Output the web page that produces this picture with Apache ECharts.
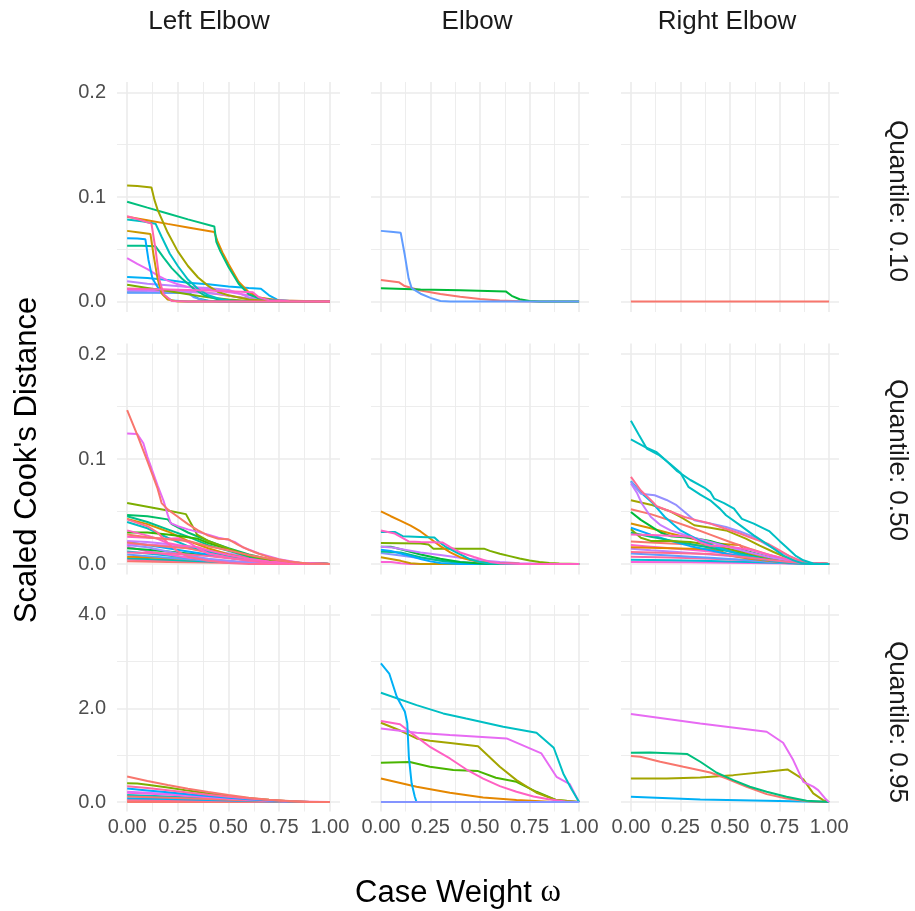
<!DOCTYPE html>
<html>
<head>
<meta charset="utf-8">
<script src="https://cdn.jsdelivr.net/npm/echarts@6/dist/echarts.min.js"></script>
<style>
html,body{margin:0;padding:0;background:#fff;}
#chart{width:915px;height:911px;}
</style>
</head>
<body>
<div id="chart"></div>
<script>
// ---------- labels / ticks ----------
const columnLabels = ['Left Elbow', 'Elbow', 'Right Elbow'];
const rowLabels = ['Quantile: 0.10', 'Quantile: 0.50', 'Quantile: 0.95'];
const xTicks = [0, 0.25, 0.5, 0.75, 1];
const xTickLabels = ['0.00', '0.25', '0.50', '0.75', '1.00'];
const xMinorTicks = [0.125, 0.375, 0.625, 0.875];
const yTicksSmall = [0, 0.1, 0.2];
const yTickLabelsSmall = ['0.0', '0.1', '0.2'];
const yMinorSmall = [0.05, 0.15];
const yTicksLarge = [0, 2, 4];
const yTickLabelsLarge = ['0.0', '2.0', '4.0'];
const yMinorLarge = [1, 3];
const xTitle = 'Case Weight ';
const yTitle = "Scaled Cook's Distance";

// ---------- data: each line is a list of [case weight, scaled Cook's distance] ----------
const leftQ10 = [
  [[0,0.0125],[0.15,0.0118],[0.25,0.0105],[0.35,0.0095],[0.45,0.007],[0.55,0.004],[0.65,0.0015],[0.75,0.0003],[1,0]],
  [[0,0.009],[0.1,0.0088],[0.3,0.0085],[0.35,0.003],[0.4,0.0008],[0.5,0],[1,0]],
  [[0,0.0085],[0.15,0.0085],[0.3,0.0082],[0.33,0.004],[0.38,0.001],[0.45,0],[1,0]],
  [[0,0.0105],[0.2,0.0098],[0.3,0.0092],[0.45,0.0075],[0.55,0.004],[0.62,0.002],[0.7,0.0005],[1,0]],
  [[0,0.016],[0.1,0.013],[0.2,0.01],[0.3,0.007],[0.4,0.004],[0.5,0.002],[0.6,0.0005],[1,0]],
  [[0,0.0195],[0.1,0.017],[0.2,0.0155],[0.3,0.014],[0.4,0.013],[0.5,0.011],[0.55,0.008],[0.6,0.004],[0.7,0.001],[1,0]],
  [[0,0.0235],[0.1,0.0225],[0.2,0.0205],[0.3,0.018],[0.4,0.0165],[0.5,0.0145],[0.6,0.013],[0.66,0.0122],[0.7,0.006],[0.74,0.0018],[0.8,0.0005],[1,0]],
  [[0,0.0415],[0.05,0.036],[0.1,0.031],[0.15,0.025],[0.2,0.02],[0.25,0.0165],[0.3,0.014],[0.4,0.0115],[0.5,0.009],[0.6,0.006],[0.7,0.002],[0.8,0.0005],[1,0]],
  [[0,0.0533],[0.07,0.0533],[0.14,0.0528],[0.18,0.042],[0.22,0.032],[0.27,0.022],[0.33,0.012],[0.38,0.006],[0.45,0.002],[0.55,0],[1,0]],
  [[0,0.0785],[0.08,0.0765],[0.14,0.0745],[0.17,0.062],[0.21,0.046],[0.25,0.034],[0.3,0.021],[0.35,0.012],[0.4,0.006],[0.45,0.003],[0.5,0.001],[0.6,0],[1,0]],
  [[0,0.0606],[0.05,0.0602],[0.09,0.0595],[0.105,0.04],[0.125,0.022],[0.15,0.014],[0.18,0.006],[0.22,0.001],[0.3,0],[1,0]],
  [[0,0.0676],[0.06,0.066],[0.115,0.0645],[0.13,0.045],[0.15,0.022],[0.17,0.008],[0.2,0.002],[0.25,0],[1,0]],
  [[0,0.0812],[0.1,0.0778],[0.2,0.0743],[0.3,0.0709],[0.43,0.0665],[0.445,0.058],[0.47,0.047],[0.5,0.036],[0.55,0.019],[0.6,0.009],[0.65,0.004],[0.75,0.001],[1,0]],
  [[0,0.0955],[0.1,0.0898],[0.2,0.0842],[0.3,0.0786],[0.43,0.0718],[0.44,0.057],[0.46,0.048],[0.5,0.033],[0.55,0.017],[0.6,0.007],[0.65,0.003],[0.75,0.0008],[1,0]],
  [[0,0.111],[0.05,0.1105],[0.12,0.109],[0.135,0.097],[0.15,0.088],[0.2,0.066],[0.25,0.048],[0.3,0.034],[0.35,0.023],[0.4,0.015],[0.45,0.009],[0.5,0.006],[0.6,0.002],[0.7,0.0005],[1,0]],
  [[0,0.012],[0.2,0.0115],[0.4,0.0105],[0.5,0.0098],[0.62,0.0088],[0.65,0.004],[0.7,0.0012],[0.8,0.0003],[1,0]],
  [[0,0.0815],[0.05,0.079],[0.12,0.0745],[0.14,0.05],[0.16,0.02],[0.18,0.007],[0.22,0.0005],[0.3,0],[1,0]]
];
const leftQ10Colors = ['#F8766D','#00C0AF','#619CFF','#C77CFF','#7CAE00','#B983FF','#00B0F6','#E76BF3','#00C08B','#00BFC4','#00A9FF','#C99800','#E58700','#00BF7D','#A3A500','#FF61C3','#FF65AC'];

const elbowQ10 = [
  [[0,0.0207],[0.09,0.0185],[0.12,0.0148],[0.2,0.0105],[0.3,0.0072],[0.4,0.0045],[0.5,0.0025],[0.6,0.001],[0.7,0.0003],[0.8,0],[1,0]],
  [[0,0.0128],[0.2,0.0116],[0.4,0.0107],[0.63,0.0097],[0.66,0.0055],[0.7,0.0022],[0.75,0.0005],[0.8,0],[1,0]],
  [[0,0.0676],[0.05,0.0667],[0.1,0.0657],[0.12,0.045],[0.14,0.022],[0.155,0.0128],[0.2,0.0075],[0.25,0.0035],[0.3,0.0005],[0.35,0],[1,0]]
];
const elbowQ10Colors = ['#F8766D','#00BA38','#619CFF'];

const rightQ10 = [
  [[0,0],[1,0]]
];
const rightQ10Colors = ['#F8766D'];

const leftQ50 = [
  [[0,0.0025],[0.2,0.002],[0.4,0.0015],[0.6,0.001],[1,0]],
  [[0,0.004],[0.1,0.0035],[0.2,0.003],[0.3,0.0025],[0.4,0.002],[0.5,0.0015],[0.6,0.001],[1,0]],
  [[0,0.0055],[0.1,0.0048],[0.2,0.004],[0.3,0.0032],[0.4,0.0024],[0.5,0.0016],[0.6,0.001],[1,0]],
  [[0,0.007],[0.1,0.0065],[0.2,0.0055],[0.3,0.0045],[0.4,0.0035],[0.5,0.0025],[0.6,0.0015],[0.7,0.0007],[1,0]],
  [[0,0.009],[0.1,0.0075],[0.2,0.006],[0.3,0.0045],[0.4,0.003],[0.5,0.002],[0.6,0.001],[1,0]],
  [[0,0.012],[0.1,0.01],[0.2,0.008],[0.3,0.006],[0.4,0.004],[0.5,0.0025],[0.6,0.0013],[0.7,0.0005],[1,0]],
  [[0,0.0165],[0.1,0.012],[0.2,0.009],[0.3,0.006],[0.4,0.004],[0.5,0.0025],[0.6,0.0012],[0.7,0.0005],[1,0]],
  [[0,0.015],[0.1,0.0135],[0.2,0.012],[0.3,0.01],[0.4,0.008],[0.5,0.006],[0.6,0.004],[0.7,0.002],[0.8,0.0008],[1,0]],
  [[0,0.018],[0.1,0.016],[0.2,0.012],[0.3,0.008],[0.4,0.005],[0.5,0.003],[0.6,0.0015],[0.7,0.0005],[1,0]],
  [[0,0.021],[0.1,0.018],[0.2,0.015],[0.3,0.012],[0.4,0.009],[0.5,0.006],[0.6,0.0035],[0.7,0.0015],[0.8,0.0005],[1,0]],
  [[0,0.022],[0.1,0.021],[0.2,0.019],[0.3,0.016],[0.4,0.013],[0.5,0.01],[0.55,0.008],[0.6,0.005],[0.7,0.0025],[0.8,0.001],[1,0]],
  [[0,0.019],[0.1,0.0185],[0.2,0.0175],[0.3,0.015],[0.4,0.012],[0.5,0.0095],[0.6,0.0065],[0.7,0.0035],[0.8,0.0013],[1,0]],
  [[0,0.0205],[0.1,0.018],[0.2,0.0165],[0.3,0.015],[0.4,0.011],[0.5,0.008],[0.6,0.005],[0.7,0.0025],[0.8,0.001],[1,0]],
  [[0,0.04],[0.1,0.034],[0.2,0.025],[0.3,0.017],[0.4,0.012],[0.5,0.008],[0.6,0.004],[0.7,0.0018],[0.8,0.0005],[1,0]],
  [[0,0.043],[0.1,0.038],[0.2,0.031],[0.3,0.022],[0.4,0.015],[0.5,0.009],[0.6,0.005],[0.7,0.002],[0.8,0.0007],[1,0]],
  [[0,0.0455],[0.1,0.04],[0.2,0.033],[0.3,0.026],[0.35,0.022],[0.4,0.018],[0.5,0.0125],[0.6,0.007],[0.7,0.003],[0.8,0.001],[1,0]],
  [[0,0.0466],[0.1,0.0455],[0.2,0.0425],[0.22,0.038],[0.3,0.03],[0.4,0.022],[0.5,0.015],[0.6,0.009],[0.7,0.0045],[0.8,0.0015],[1,0]],
  [[0,0.03],[0.1,0.03],[0.2,0.028],[0.25,0.027],[0.35,0.024],[0.4,0.02],[0.45,0.017],[0.5,0.014],[0.6,0.008],[0.7,0.004],[0.8,0.0015],[1,0]],
  [[0,0.058],[0.1,0.0545],[0.2,0.051],[0.29,0.0475],[0.32,0.037],[0.345,0.028],[0.4,0.022],[0.5,0.0145],[0.6,0.008],[0.7,0.004],[0.8,0.0015],[0.9,0.0003],[1,0]],
  [[0,0.0425],[0.1,0.036],[0.15,0.03],[0.2,0.02],[0.25,0.012],[0.3,0.007],[0.4,0.003],[0.5,0.001],[0.6,0],[1,0]],
  [[0,0.026],[0.1,0.025],[0.2,0.024],[0.25,0.0245],[0.3,0.021],[0.35,0.015],[0.4,0.01],[0.5,0.006],[0.6,0.003],[0.7,0.001],[1,0]],
  [[0,0.011],[0.1,0.0105],[0.2,0.01],[0.3,0.009],[0.4,0.0075],[0.5,0.0055],[0.6,0.0035],[0.7,0.0018],[0.8,0.0006],[1,0]],
  [[0,0.032],[0.1,0.027],[0.15,0.024],[0.2,0.02],[0.25,0.018],[0.3,0.017],[0.35,0.016],[0.4,0.013],[0.5,0.0085],[0.6,0.005],[0.7,0.0025],[0.8,0.001],[1,0]],
  [[0,0.028],[0.1,0.0255],[0.2,0.0235],[0.3,0.022],[0.35,0.0195],[0.4,0.017],[0.5,0.013],[0.6,0.0085],[0.7,0.005],[0.8,0.002],[0.9,0.0005],[1,0]],
  [[0,0.1243],[0.05,0.1238],[0.08,0.115],[0.1,0.102],[0.15,0.075],[0.18,0.06],[0.2,0.047],[0.215,0.039],[0.25,0.036],[0.3,0.033],[0.4,0.028],[0.45,0.025],[0.5,0.023],[0.53,0.021],[0.57,0.016],[0.65,0.01],[0.75,0.0045],[0.85,0.0012],[1,0]],
  [[0,0.1466],[0.05,0.123],[0.1,0.098],[0.15,0.072],[0.17,0.058],[0.2,0.052],[0.25,0.045],[0.3,0.038],[0.35,0.032],[0.4,0.027],[0.45,0.024],[0.5,0.0235],[0.55,0.018],[0.6,0.0135],[0.65,0.0098],[0.7,0.0065],[0.75,0.0042],[0.8,0.0025],[0.85,0.0012],[0.9,0.0005],[1,0]]
];
const leftQ50Colors = ['#F8766D','#FF6C91','#00C0AF','#E58700','#619CFF','#00BCD8','#FD61D1','#00BA38','#9590FF','#00A9FF','#C77CFF','#E76BF3','#F8766D','#00BFC4','#D89000','#00C08B','#00BE67','#39B600','#7CAE00','#FF6C91','#FF61C3','#FF67A4','#FF61C3','#F8766D','#E76BF3','#F8766D'];

const elbowQ50 = [
  [[0,0.002],[0.05,0.0018],[0.1,0.0008],[0.15,0],[1,0]],
  [[0,0.0065],[0.1,0.003],[0.15,0.0008],[0.2,0],[1,0]],
  [[0,0.0105],[0.1,0.008],[0.2,0.0055],[0.3,0.0035],[0.4,0.0018],[0.5,0.0008],[0.6,0.0002],[1,0]],
  [[0,0.012],[0.1,0.011],[0.2,0.0065],[0.3,0.003],[0.4,0.001],[0.5,0],[1,0]],
  [[0,0.0135],[0.05,0.0125],[0.1,0.01],[0.15,0.0075],[0.2,0.0048],[0.25,0.0025],[0.3,0.001],[0.4,0],[1,0]],
  [[0,0.0165],[0.05,0.0165],[0.1,0.014],[0.2,0.009],[0.3,0.005],[0.4,0.0018],[0.5,0.0004],[0.6,0],[1,0]],
  [[0,0.0165],[0.06,0.0158],[0.12,0.0135],[0.2,0.011],[0.3,0.0085],[0.4,0.006],[0.5,0.0035],[0.6,0.0018],[0.7,0.0008],[0.8,0.0002],[1,0]],
  [[0,0.02],[0.1,0.0198],[0.2,0.0196],[0.24,0.0185],[0.265,0.0146],[0.4,0.0146],[0.52,0.0146],[0.55,0.0125],[0.6,0.0098],[0.65,0.0075],[0.7,0.0052],[0.75,0.0033],[0.8,0.0018],[0.85,0.001],[0.9,0.0004],[1,0]],
  [[0,0.0502],[0.05,0.0455],[0.1,0.041],[0.15,0.0365],[0.2,0.031],[0.25,0.024],[0.3,0.017],[0.35,0.011],[0.4,0.0065],[0.45,0.0038],[0.5,0.002],[0.6,0.0008],[0.7,0.0002],[1,0]],
  [[0,0.0305],[0.07,0.0305],[0.11,0.0265],[0.2,0.0258],[0.27,0.0252],[0.3,0.02],[0.33,0.016],[0.38,0.0112],[0.45,0.0045],[0.5,0.0018],[0.55,0.0005],[0.65,0],[1,0]],
  [[0,0.032],[0.07,0.029],[0.14,0.0215],[0.2,0.021],[0.31,0.0205],[0.35,0.016],[0.4,0.011],[0.47,0.0066],[0.55,0.002],[0.6,0.0007],[0.7,0],[1,0]]
];
const elbowQ50Colors = ['#FB61D7','#C99800','#8494FF','#00C08B','#00A9FF','#00BA38','#C77CFF','#7CAE00','#E58700','#00BFC4','#FF61C3'];

const rightQ50 = [
  [[0,0.002],[0.3,0.0016],[0.6,0.001],[1,0]],
  [[0,0.004],[0.2,0.0035],[0.4,0.0028],[0.6,0.002],[0.8,0.0008],[1,0]],
  [[0,0.007],[0.2,0.0062],[0.4,0.005],[0.6,0.0035],[0.8,0.0015],[1,0]],
  [[0,0.01],[0.1,0.009],[0.2,0.008],[0.3,0.007],[0.4,0.006],[0.5,0.0048],[0.6,0.0035],[0.7,0.002],[0.8,0.0008],[1,0]],
  [[0,0.0145],[0.1,0.013],[0.2,0.0118],[0.3,0.0105],[0.4,0.009],[0.5,0.0075],[0.6,0.0055],[0.7,0.0035],[0.8,0.0015],[1,0]],
  [[0,0.018],[0.1,0.0165],[0.2,0.015],[0.3,0.0135],[0.4,0.012],[0.5,0.0095],[0.6,0.007],[0.7,0.0045],[0.8,0.002],[0.9,0.0005],[1,0]],
  [[0,0.0215],[0.1,0.0205],[0.2,0.0195],[0.3,0.0185],[0.4,0.0165],[0.5,0.0135],[0.6,0.0095],[0.7,0.0055],[0.8,0.0025],[0.9,0.0006],[1,0]],
  [[0,0.016],[0.1,0.0155],[0.2,0.015],[0.3,0.0145],[0.4,0.014],[0.45,0.0125],[0.5,0.008],[0.6,0.005],[0.7,0.0028],[0.8,0.001],[1,0]],
  [[0,0.0345],[0.1,0.028],[0.2,0.022],[0.3,0.017],[0.4,0.013],[0.5,0.009],[0.6,0.006],[0.7,0.0035],[0.8,0.0015],[1,0]],
  [[0,0.03],[0.1,0.026],[0.2,0.0225],[0.3,0.019],[0.4,0.0155],[0.5,0.012],[0.6,0.0085],[0.7,0.005],[0.8,0.002],[0.9,0.0005],[1,0]],
  [[0,0.033],[0.05,0.025],[0.1,0.022],[0.2,0.022],[0.3,0.021],[0.4,0.018],[0.5,0.014],[0.6,0.01],[0.7,0.006],[0.8,0.0025],[0.9,0.0005],[1,0]],
  [[0,0.0385],[0.1,0.034],[0.2,0.029],[0.3,0.0245],[0.4,0.02],[0.5,0.0185],[0.55,0.018],[0.58,0.0115],[0.65,0.008],[0.75,0.004],[0.85,0.0012],[1,0]],
  [[0,0.0496],[0.05,0.042],[0.1,0.036],[0.15,0.03],[0.2,0.0265],[0.3,0.025],[0.35,0.0235],[0.4,0.022],[0.5,0.0165],[0.6,0.0115],[0.7,0.0065],[0.8,0.0025],[0.9,0.0005],[1,0]],
  [[0,0.0521],[0.1,0.0475],[0.2,0.0415],[0.3,0.035],[0.4,0.028],[0.5,0.021],[0.6,0.0145],[0.7,0.0085],[0.8,0.0035],[0.9,0.0008],[1,0]],
  [[0,0.0607],[0.1,0.0565],[0.2,0.05],[0.25,0.0448],[0.32,0.0369],[0.4,0.0345],[0.48,0.032],[0.58,0.0242],[0.65,0.0175],[0.72,0.0114],[0.78,0.0065],[0.85,0.002],[0.9,0.0005],[1,0]],
  [[0,0.0766],[0.03,0.068],[0.055,0.0576],[0.1,0.045],[0.15,0.037],[0.2,0.032],[0.3,0.026],[0.4,0.021],[0.5,0.016],[0.6,0.011],[0.7,0.0065],[0.8,0.003],[0.9,0.0008],[1,0]],
  [[0,0.079],[0.05,0.068],[0.11,0.058],[0.17,0.045],[0.25,0.032],[0.35,0.022],[0.45,0.015],[0.55,0.009],[0.65,0.005],[0.75,0.002],[0.85,0.0005],[1,0]],
  [[0,0.0782],[0.05,0.067],[0.12,0.0655],[0.18,0.061],[0.23,0.056],[0.28,0.048],[0.32,0.0417],[0.4,0.0385],[0.48,0.0353],[0.55,0.031],[0.62,0.0258],[0.68,0.019],[0.74,0.013],[0.8,0.0075],[0.85,0.0035],[0.9,0.001],[0.95,0],[1,0]],
  [[0,0.0282],[0.1,0.0276],[0.2,0.027],[0.3,0.026],[0.35,0.0205],[0.4,0.0175],[0.5,0.0165],[0.6,0.0135],[0.7,0.0085],[0.8,0.004],[0.9,0.001],[1,0]],
  [[0,0.083],[0.05,0.07],[0.1,0.061],[0.13,0.055],[0.2,0.05],[0.27,0.0448],[0.33,0.0418],[0.4,0.0385],[0.47,0.034],[0.55,0.029],[0.62,0.024],[0.69,0.0194],[0.75,0.013],[0.8,0.0075],[0.85,0.0035],[0.9,0.001],[1,0]],
  [[0,0.0115],[0.1,0.011],[0.2,0.0105],[0.3,0.01],[0.4,0.0095],[0.5,0.008],[0.6,0.006],[0.7,0.0038],[0.8,0.0018],[0.9,0.0005],[1,0]],
  [[0,0.1186],[0.07,0.1116],[0.13,0.1065],[0.18,0.098],[0.23,0.089],[0.3,0.08],[0.37,0.0728],[0.4,0.0687],[0.42,0.0623],[0.47,0.058],[0.52,0.0528],[0.56,0.043],[0.62,0.0385],[0.7,0.031],[0.75,0.022],[0.785,0.016],[0.83,0.008],[0.87,0.0035],[0.92,0.0005],[0.95,0],[1,0]],
  [[0,0.1364],[0.04,0.123],[0.08,0.11],[0.14,0.104],[0.2,0.095],[0.25,0.087],[0.29,0.0735],[0.35,0.066],[0.4,0.0607],[0.45,0.0525],[0.48,0.0464],[0.55,0.037],[0.62,0.0273],[0.67,0.021],[0.72,0.0146],[0.77,0.008],[0.82,0.0035],[0.86,0.001],[0.9,0],[1,0]]
];
const rightQ50Colors = ['#FB61D7','#00BCD8','#FF67A4','#619CFF','#B983FF','#FD61D1','#F8766D','#E58700','#00A9FF','#00C08B','#7CAE00','#D89000','#00BA38','#F8766D','#A3A500','#C77CFF','#00B9E3','#9590FF','#FF61C3','#FF6C91','#FF6C91','#00BFC4','#00BFC4'];

const leftQ95 = [
  [[0,0],[1,0]],
  [[0,0.02],[0.5,0.01],[1,0]],
  [[0,0.05],[0.2,0.04],[0.4,0.03],[0.6,0.017],[0.8,0.005],[1,0]],
  [[0,0.08],[0.2,0.065],[0.4,0.045],[0.6,0.025],[0.8,0.008],[1,0]],
  [[0,0.15],[0.2,0.12],[0.4,0.08],[0.6,0.04],[0.8,0.01],[1,0]],
  [[0,0.12],[0.2,0.095],[0.4,0.065],[0.6,0.035],[0.8,0.01],[1,0]],
  [[0,0.2],[0.2,0.16],[0.4,0.105],[0.6,0.05],[0.8,0.012],[1,0]],
  [[0,0.22],[0.1,0.2],[0.2,0.175],[0.3,0.145],[0.4,0.113],[0.5,0.082],[0.6,0.055],[0.7,0.031],[0.8,0.013],[0.9,0.003],[1,0]],
  [[0,0.29],[0.1,0.25],[0.2,0.21],[0.3,0.17],[0.4,0.13],[0.5,0.095],[0.6,0.063],[0.7,0.035],[0.8,0.015],[0.9,0.003],[1,0]],
  [[0,0.4],[0.05,0.395],[0.1,0.37],[0.2,0.31],[0.3,0.245],[0.4,0.185],[0.5,0.13],[0.6,0.085],[0.7,0.048],[0.8,0.02],[0.9,0.005],[1,0]],
  [[0,0.34],[0.1,0.3],[0.2,0.255],[0.3,0.205],[0.4,0.158],[0.5,0.115],[0.6,0.077],[0.7,0.044],[0.8,0.018],[0.9,0.004],[1,0]],
  [[0,0.545],[0.1,0.45],[0.2,0.365],[0.3,0.285],[0.4,0.215],[0.5,0.15],[0.6,0.095],[0.7,0.052],[0.8,0.022],[0.9,0.005],[1,0]]
];
const leftQ95Colors = ['#F8766D','#F8766D','#FF6C91','#00B0F6','#00BFC4','#F8766D','#FD61D1','#E76BF3','#00A9FF','#7CAE00','#FF67A4','#F8766D'];

const elbowQ95 = [
  [[0,0.504],[0.18,0.327],[0.348,0.199],[0.516,0.1],[0.684,0.043],[0.85,0.007],[1,0]],
  [[0,0.838],[0.146,0.853],[0.247,0.753],[0.365,0.682],[0.49,0.661],[0.58,0.519],[0.684,0.433],[0.785,0.22],[0.886,0.043],[1,0]],
  [[0,1.69],[0.1,1.52],[0.18,1.357],[0.247,1.307],[0.35,1.26],[0.49,1.19],[0.6,0.753],[0.684,0.469],[0.785,0.199],[0.886,0.043],[1,0]],
  [[0,1.73],[0.096,1.66],[0.18,1.39],[0.25,1.17],[0.348,0.93],[0.43,0.7],[0.516,0.5],[0.6,0.34],[0.684,0.22],[0.77,0.12],[0.852,0.057],[0.93,0.015],[1,0]],
  [[0,1.57],[0.18,1.478],[0.348,1.428],[0.634,1.357],[0.81,1.037],[0.886,0.54],[0.953,0.384],[1,0]],
  [[0,2.33],[0.18,2.067],[0.314,1.89],[0.43,1.78],[0.617,1.606],[0.785,1.478],[0.872,1.158],[0.92,0.611],[0.96,0.29],[1,0]],
  [[0,2.955],[0.042,2.74],[0.08,2.245],[0.121,1.925],[0.133,1.68],[0.141,0.966],[0.155,0.4],[0.171,0.114],[0.18,0],[1,0]],
  [[0,0],[1,0]]
];
const elbowQ95Colors = ['#E58700','#49B500','#A3A500','#FF61C3','#E76BF3','#00BFC4','#00B0F6','#8494FF'];

const rightQ95 = [
  [[0,0.114],[0.35,0.057],[0.685,0.028],[1,0]],
  [[0,0.504],[0.18,0.504],[0.35,0.526],[0.517,0.575],[0.685,0.647],[0.79,0.696],[0.87,0.483],[0.92,0.185],[0.97,0.043],[1,0]],
  [[0,0.98],[0.047,0.966],[0.148,0.86],[0.265,0.753],[0.4,0.632],[0.483,0.504],[0.584,0.327],[0.685,0.17],[0.785,0.078],[0.903,0.014],[1,0]],
  [[0,1.05],[0.097,1.059],[0.285,1.023],[0.35,0.86],[0.433,0.625],[0.517,0.469],[0.6,0.327],[0.685,0.22],[0.785,0.114],[0.886,0.028],[1,0]],
  [[0,1.876],[0.35,1.677],[0.685,1.5],[0.768,1.265],[0.819,0.895],[0.87,0.43],[0.92,0.33],[0.945,0.256],[0.98,0.078],[1,0]]
];
const rightQ95Colors = ['#00B0F6','#A3A500','#F8766D','#00BF7D','#E76BF3'];

const panels = [
  [leftQ10, elbowQ10, rightQ10],
  [leftQ50, elbowQ50, rightQ50],
  [leftQ95, elbowQ95, rightQ95]
];
const panelColors = [
  [leftQ10Colors, elbowQ10Colors, rightQ10Colors],
  [leftQ50Colors, elbowQ50Colors, rightQ50Colors],
  [leftQ95Colors, elbowQ95Colors, rightQ95Colors]
];

// ---------- layout ----------
const colLeft = [117, 371, 621];
const colWidth = [223, 218, 218];
const rowTop = [82, 343.5, 605];
const rowHeight = [230, 231, 206.5];

const GRID = '#EBEBEB';
const TXT = '#4D4D4D';
const FONT = '"Liberation Sans", Arial, sans-serif';

function nearestLabel(v, ticks, labels) {
  let best = 0;
  for (let i = 1; i < ticks.length; i++) if (Math.abs(ticks[i] - v) < Math.abs(ticks[best] - v)) best = i;
  return labels[best];
}

const grids = [], xAxes = [], yAxes = [], series = [];
for (let r = 0; r < 3; r++) {
  for (let c = 0; c < 3; c++) {
    const g = grids.length;
    grids.push({left: colLeft[c], top: rowTop[r], width: colWidth[c], height: rowHeight[r], containLabel: false});
    const large = r === 2;
    const yMaj = large ? yTicksLarge : yTicksSmall;
    const yLab = large ? yTickLabelsLarge : yTickLabelsSmall;
    const yMin = large ? yMinorLarge : yMinorSmall;
    const yLo = large ? -0.2 : -0.01, yHi = large ? 4.2 : 0.21;
    xAxes.push({type: 'value', gridIndex: g, position: 'top', min: -0.05, max: 1.05,
      axisLine: {show: false}, axisTick: {show: false, customValues: xMinorTicks},
      axisLabel: {show: false, customValues: xMinorTicks},
      splitLine: {show: true, lineStyle: {color: GRID, width: 0.9}}});
    xAxes.push({type: 'value', gridIndex: g, position: 'bottom', min: -0.05, max: 1.05,
      axisLine: {show: false}, axisTick: {show: false, customValues: xTicks},
      axisLabel: {show: r === 2, customValues: xTicks, color: TXT, fontSize: 20, fontFamily: FONT, margin: 6,
        formatter: v => nearestLabel(v, xTicks, xTickLabels)},
      splitLine: {show: true, lineStyle: {color: GRID, width: 1.6}}});
    yAxes.push({type: 'value', gridIndex: g, position: 'right', min: yLo, max: yHi,
      axisLine: {show: false}, axisTick: {show: false, customValues: yMin},
      axisLabel: {show: false, customValues: yMin},
      splitLine: {show: true, lineStyle: {color: GRID, width: 0.9}}});
    yAxes.push({type: 'value', gridIndex: g, position: 'left', min: yLo, max: yHi,
      axisLine: {show: false}, axisTick: {show: false, customValues: yMaj},
      axisLabel: {show: c === 0, customValues: yMaj, color: TXT, fontSize: 20, fontFamily: FONT, margin: 11,
        formatter: v => nearestLabel(v, yMaj, yLab)},
      splitLine: {show: true, lineStyle: {color: GRID, width: 1.6}}});
    const lines = panels[r][c];
    const cols = panelColors[r][c];
    lines.forEach((pts, i) => {
      series.push({type: 'line', xAxisIndex: 2 * g + 1, yAxisIndex: 2 * g + 1, data: pts,
        showSymbol: false, symbol: 'none', silent: true, animation: false,
        lineStyle: {color: cols[i % cols.length], width: 2}, z: 3});
    });
  }
}

const graphics = [];
const colTitleX = [209, 477, 727];
columnLabels.forEach((t, i) => graphics.push({type: 'text', x: colTitleX[i], y: 22,
  style: {text: t, fill: '#1A1A1A', font: '26px ' + FONT, textAlign: 'center', textVerticalAlign: 'middle'}}));
const rowTitleY = [201, 460, 722];
rowLabels.forEach((t, i) => graphics.push({type: 'text', x: 897, y: rowTitleY[i], rotation: -Math.PI / 2,
  style: {text: t, fill: '#1A1A1A', font: '26px ' + FONT, textAlign: 'center', textVerticalAlign: 'middle'}}));
graphics.push({type: 'text', x: 27, y: 460, rotation: Math.PI / 2,
  style: {text: yTitle, fill: '#000', font: '31px ' + FONT, textAlign: 'center', textVerticalAlign: 'middle'}});
graphics.push({type: 'text', x: 458, y: 893,
  style: {rich: {a: {font: '31px ' + FONT, fill: '#000'}, w: {font: '31px "Liberation Serif", "DejaVu Serif", serif', fill: '#000'}},
    text: '{a|' + xTitle + '}{w|ω}', textAlign: 'center', textVerticalAlign: 'middle'}});

const chart = echarts.init(document.getElementById('chart'), null, {renderer: 'canvas'});
chart.setOption({
  animation: false,
  backgroundColor: '#ffffff',
  grid: grids,
  xAxis: xAxes,
  yAxis: yAxes,
  series: series,
  graphic: graphics
});
</script>
</body>
</html>
